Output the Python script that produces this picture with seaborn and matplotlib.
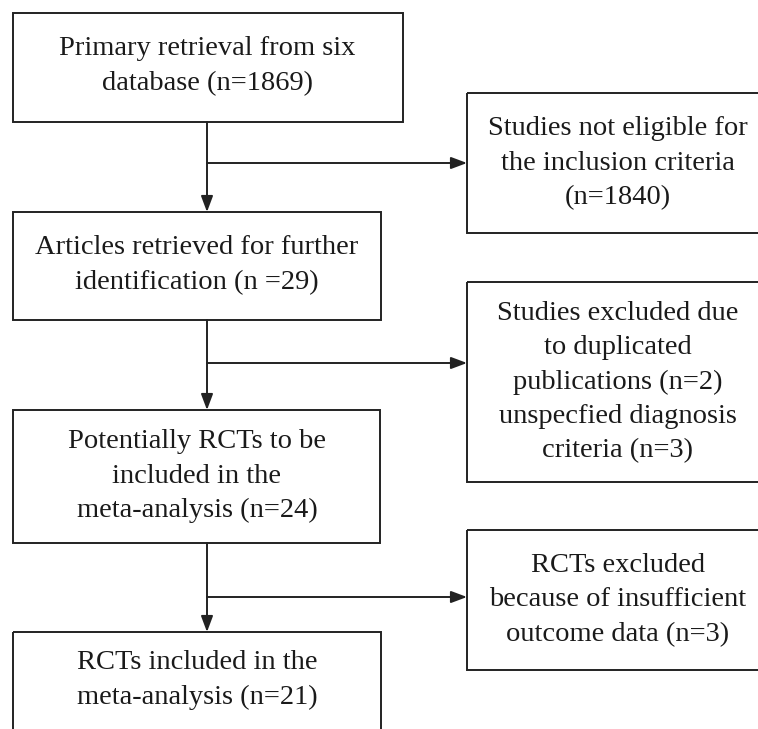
import matplotlib
matplotlib.use("Agg")
import matplotlib.pyplot as plt
import seaborn as sns
from matplotlib.patches import Rectangle

# box texts (one list of lines per box)
main_labels = [
    ["Primary retrieval from six", "database (n=1869)"],
    ["Articles retrieved for further", "identification (n =29)"],
    ["Potentially RCTs to be", "included in the", "meta-analysis (n=24)"],
    ["RCTs included in the", "meta-analysis (n=21)"],
]
side_labels = [
    ["Studies not eligible for", "the inclusion criteria", "(n=1840)"],
    ["Studies excluded due", "to duplicated", "publications (n=2)", "unspecfied diagnosis", "criteria (n=3)"],
    ["RCTs excluded", "because of insufficient", "outcome data (n=3)"],
]

# layout in pixel units (x0, x1, y0, y1)
main_boxes = [(13, 403, 13, 122), (13, 381, 212, 320), (13, 380, 410, 543), (13, 381, 632, 760)]
main_text_y = [66, 265, 476, 680]
main_text_x = [207, 197, 197, 197]
side_boxes = [(467, 775, 93, 233), (467, 775, 282, 482), (467, 775, 530, 670)]
side_text_x = 618
trunk_x = 207
branch_y = [163, 363, 597]
line_gap = 34.5

sns.set_theme(style="white")
plt.rcParams['font.family'] = ['Liberation Serif', 'DejaVu Serif']

fig = plt.figure(figsize=(7.58, 7.29), dpi=100)
ax = fig.add_axes([0, 0, 1, 1])
ax.set_xlim(0, 758)
ax.set_ylim(729, 0)
ax.axis('off')

lw = 1.4
col = '#222222'
txt_col = '#1a1a1a'
fs = 20.5


def draw_box(box, lines, cx, cy):
    x0, x1, y0, y1 = box
    ax.add_patch(Rectangle((x0, y0), x1 - x0, y1 - y0, fill=False, ec=col, lw=lw))
    n = len(lines)
    for i, s in enumerate(lines):
        y = cy + (i - (n - 1) / 2) * line_gap
        ax.text(cx, y, s, ha='center', va='center', fontsize=fs, color=txt_col)


for box, lines, cx, cy in zip(main_boxes, main_labels, main_text_x, main_text_y):
    draw_box(box, lines, cx, cy)

for box, lines in zip(side_boxes, side_labels):
    cy = (box[2] + box[3]) / 2
    draw_box(box, lines, side_text_x, cy)

arrow_kw = dict(arrowstyle='-|>,head_length=0.8,head_width=0.3', color=col, lw=lw,
                shrinkA=0, shrinkB=0)

# vertical arrows between main boxes
for i in range(3):
    top = main_boxes[i][3]
    bottom = main_boxes[i + 1][2]
    ax.annotate('', xy=(trunk_x, bottom), xytext=(trunk_x, top), arrowprops=arrow_kw)

# side arrows
for y, box in zip(branch_y, side_boxes):
    ax.annotate('', xy=(box[0], y), xytext=(trunk_x, y), arrowprops=arrow_kw)

fig.savefig('out.png', dpi=100, facecolor='white')
